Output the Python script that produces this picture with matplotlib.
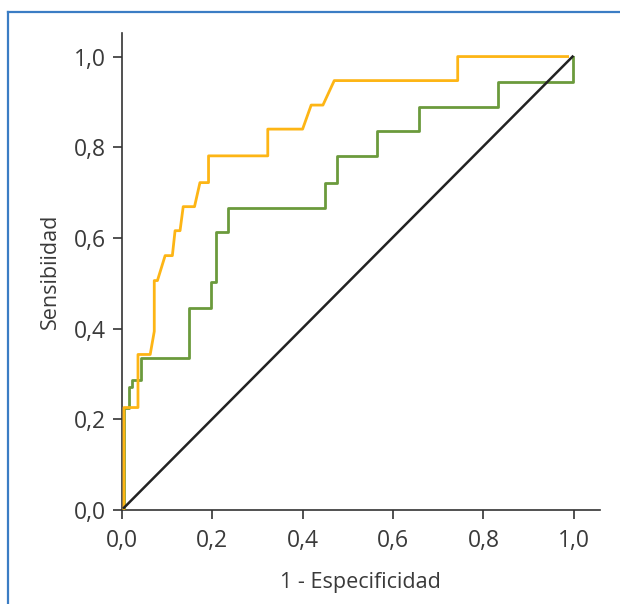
import matplotlib
matplotlib.use('Agg')
import matplotlib.pyplot as plt

plt.rcParams['font.family'] = ['Open Sans', 'DejaVu Sans']

# Curva naranja (estimada del grafico)
naranja_x = [0.005, 0.005, 0.036, 0.036, 0.063, 0.072, 0.072, 0.079, 0.096, 0.112, 0.118,
             0.129, 0.136, 0.161, 0.173, 0.192, 0.192, 0.323, 0.323, 0.400, 0.419, 0.445,
             0.470, 0.743, 0.743, 0.986]
naranja_y = [0.0, 0.226, 0.226, 0.343, 0.343, 0.394, 0.506, 0.506, 0.561, 0.561, 0.616,
             0.616, 0.669, 0.669, 0.722, 0.722, 0.781, 0.781, 0.840, 0.840, 0.893, 0.893,
             0.947, 0.947, 1.0, 1.0]

# Curva verde
verde_x = [0.005, 0.005, 0.016, 0.016, 0.023, 0.023, 0.042, 0.042, 0.149, 0.149, 0.198,
           0.198, 0.209, 0.209, 0.234, 0.234, 0.450, 0.450, 0.477, 0.477, 0.564, 0.564,
           0.658, 0.658, 0.833, 0.833, 0.999, 0.999]
verde_y = [0.0, 0.226, 0.226, 0.271, 0.271, 0.287, 0.287, 0.335, 0.335, 0.445, 0.445,
           0.502, 0.502, 0.613, 0.613, 0.667, 0.667, 0.722, 0.722, 0.780, 0.780, 0.836,
           0.836, 0.889, 0.889, 0.943, 0.943, 1.0]

# Diagonal de referencia
diag_x = [0.005, 0.997]
diag_y = [0.005, 1.0]

ticks = [0.0, 0.2, 0.4, 0.6, 0.8, 1.0]
tick_labels = ['0,0', '0,2', '0,4', '0,6', '0,8', '1,0']

fig = plt.figure(figsize=(6.2, 6.04), dpi=100)
ax = fig.add_axes([0.1963, 0.1556, 0.7717, 0.7898])

ax.plot(verde_x, verde_y, color='#6b9a3c', lw=2.0, zorder=2)
ax.plot(naranja_x, naranja_y, color='#fdb515', lw=2.0, zorder=3)
ax.plot(diag_x, diag_y, color='#222222', lw=1.8, zorder=4)

ax.set_xlim(0, 1.058)
ax.set_ylim(0, 1.052)
ax.set_xticks(ticks)
ax.set_xticklabels(tick_labels)
ax.set_yticks(ticks)
ax.set_yticklabels(tick_labels)
for s in ['top', 'right']:
    ax.spines[s].set_visible(False)
for s in ['left', 'bottom']:
    ax.spines[s].set_color('#333333')
    ax.spines[s].set_linewidth(1.2)
ax.tick_params(direction='out', length=6.5, width=1.2, color='#333333',
               labelsize=16.5, labelcolor='#3a3a3a')
ax.tick_params(axis='x', pad=7)
ax.tick_params(axis='y', pad=5)
ax.set_xlabel('1 - Especificidad', fontsize=15.5, color='#3a3a3a', labelpad=14)
ax.set_ylabel('Sensibiidad', fontsize=15.5, color='#3a3a3a', labelpad=9)

# marco azul (solo arriba e izquierda)
fig.add_artist(plt.Line2D([8 / 620, 8 / 620], [0, 1 - 12 / 604], color='#3b7dc4', lw=1.6,
                          transform=fig.transFigure))
fig.add_artist(plt.Line2D([8 / 620, 1], [1 - 12 / 604, 1 - 12 / 604], color='#3b7dc4', lw=1.6,
                          transform=fig.transFigure))

fig.savefig('out.png', dpi=100)
